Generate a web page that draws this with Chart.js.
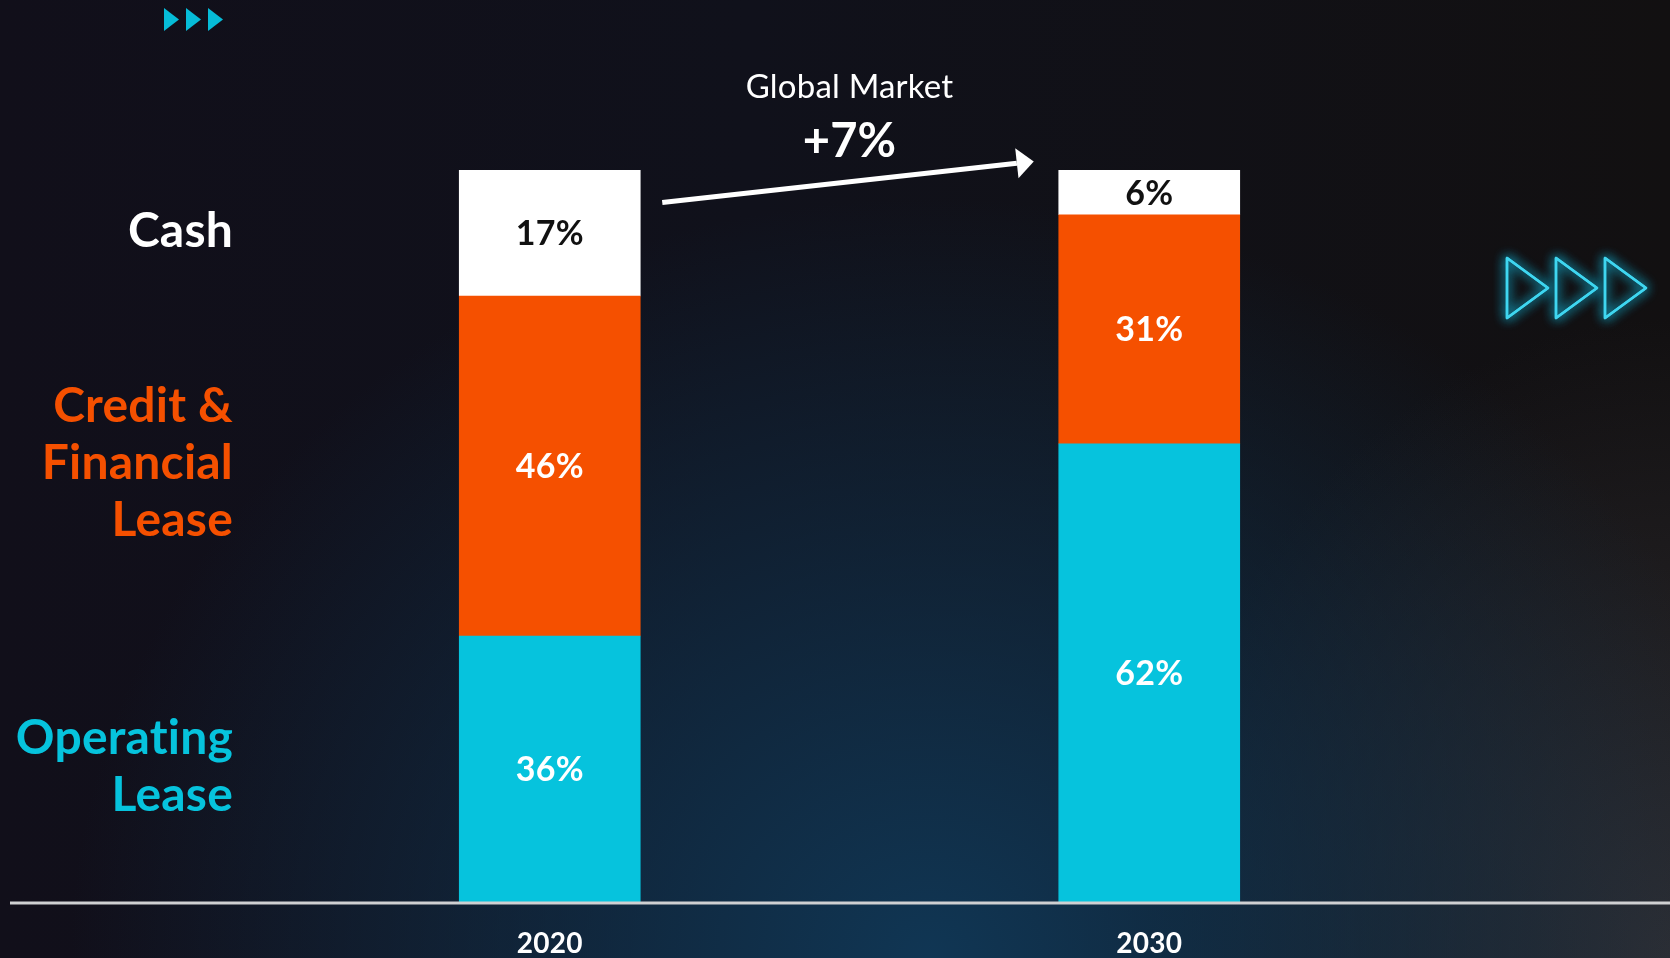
<!DOCTYPE html>
<html>
<head>
<meta charset="utf-8">
<title>Global Market Mix</title>
<script src="https://cdn.jsdelivr.net/npm/chart.js@4"></script>
<style>
  html, body { margin: 0; padding: 0; }
  body {
    width: 1670px;
    height: 958px;
    overflow: hidden;
    background:
      radial-gradient(ellipse 860px 760px at 930px 958px, rgba(16, 54, 84, 1), rgba(16, 54, 84, 0) 100%),
      radial-gradient(ellipse 520px 640px at 1670px 958px, rgba(48, 46, 50, 0.95), rgba(48, 46, 50, 0) 100%),
      linear-gradient(90deg, #110f1a 0%, #10111b 45%, #121011 100%);
  }
  #wrap { position: relative; width: 1670px; height: 958px; }
</style>
</head>
<body>
<div id="wrap"><canvas id="mixChart"></canvas></div>
<script>
// Share of each payment type per year (%)
const years = ['2020', '2030'];
const operatingLease = [36, 62];
const creditLease = [46, 31];
const cash = [17, 6];

const sideLabels = {
    operating: ['Operating', 'Lease'],
    credit: ['Credit &', 'Financial', 'Lease'],
    cash: ['Cash']
};

const growthTitle = 'Global Market';
const growthValue = '+7%';

const TEAL = '#06c3dd';
const ORANGE = '#f55000';
const FONT = 'Lato, "Open Sans", sans-serif';

// background ornaments: small arrows top left, neon arrows on the right
const decorPlugin = {
    id: 'decor',
    beforeDraw(chart) {
        const ctx = chart.ctx;
        ctx.save();
        ctx.fillStyle = '#06bcd8';
        for (let i = 0; i < 3; i++) {
            const x = 164 + i * 22;
            ctx.beginPath();
            ctx.moveTo(x, 8);
            ctx.lineTo(x + 15, 19.5);
            ctx.lineTo(x, 31);
            ctx.closePath();
            ctx.fill();
        }
        ctx.strokeStyle = '#3fd6f0';
        ctx.lineWidth = 2.5;
        ctx.lineJoin = 'round';
        ctx.shadowColor = 'rgba(20, 200, 240, 0.95)';
        ctx.shadowBlur = 12;
        for (let pass = 0; pass < 2; pass++) {
            for (let i = 0; i < 3; i++) {
                const x = 1507 + i * 49;
                ctx.beginPath();
                ctx.moveTo(x, 258);
                ctx.lineTo(x + 41, 288);
                ctx.lineTo(x, 318);
                ctx.closePath();
                ctx.stroke();
            }
        }
        ctx.restore();
    }
};

// values inside bars, series names on the left, years, baseline and growth arrow
const labelPlugin = {
    id: 'labels',
    afterDatasetsDraw(chart) {
        const ctx = chart.ctx;
        const area = chart.chartArea;
        ctx.save();
        ctx.letterSpacing = '0.2px'; // keeps "ti" from turning into a ligature

        // baseline
        ctx.strokeStyle = '#cfd0d2';
        ctx.lineWidth = 3;
        ctx.beginPath();
        ctx.moveTo(10, area.bottom + 1);
        ctx.lineTo(chart.width, area.bottom + 1);
        ctx.stroke();

        ctx.textAlign = 'center';
        ctx.textBaseline = 'middle';

        // year under each bar
        const xScale = chart.scales.x;
        ctx.fillStyle = '#ffffff';
        ctx.font = 'bold 28px ' + FONT;
        years.forEach((yr, j) => {
            ctx.fillText(yr, xScale.getPixelForValue(j), area.bottom + 42);
        });

        chart.data.datasets.forEach((ds, i) => {
            const meta = chart.getDatasetMeta(i);
            meta.data.forEach((bar, j) => {
                const mid = (bar.y + bar.base) / 2;
                ctx.font = 'bold 34px ' + FONT;
                ctx.fillStyle = ds.textColor;
                ctx.fillText(ds.data[j] + '%', bar.x, mid + 1);
            });

            // series name beside the first bar
            const first = meta.data[0];
            const lines = ds.sideLines;
            const mid = (first.y + first.base) / 2;
            const step = 57;
            ctx.font = 'bold 48px ' + FONT;
            ctx.textAlign = 'right';
            ctx.fillStyle = ds.sideColor;
            lines.forEach((line, k) => {
                const y = mid + (k - (lines.length - 1) / 2) * step - 2;
                ctx.fillText(line, area.left - 17, y);
            });
            ctx.textAlign = 'center';
        });

        // growth arrow between the tops of the two bars
        const topMeta = chart.getDatasetMeta(chart.data.datasets.length - 1);
        const b1 = topMeta.data[0];
        const b2 = topMeta.data[1];
        const x1 = b1.x + b1.width / 2 + 22;
        const y1 = b1.y + 32;
        const x2 = b2.x - b2.width / 2 - 25;
        const y2 = b2.y - 9;
        const ang = Math.atan2(y2 - y1, x2 - x1);
        const headLen = 17;
        ctx.strokeStyle = '#ffffff';
        ctx.fillStyle = '#ffffff';
        ctx.lineWidth = 5;
        ctx.beginPath();
        ctx.moveTo(x1, y1);
        ctx.lineTo(x2 - headLen * Math.cos(ang), y2 - headLen * Math.sin(ang));
        ctx.stroke();
        ctx.beginPath();
        ctx.moveTo(x2, y2);
        ctx.lineTo(x2 - headLen * Math.cos(ang) + 15 * Math.sin(ang), y2 - headLen * Math.sin(ang) - 15 * Math.cos(ang));
        ctx.lineTo(x2 - headLen * Math.cos(ang) - 15 * Math.sin(ang), y2 - headLen * Math.sin(ang) + 15 * Math.cos(ang));
        ctx.closePath();
        ctx.fill();

        const cx = (b1.x + b2.x) / 2;
        ctx.font = '33px ' + FONT;
        ctx.fillText(growthTitle, cx, 87);
        ctx.font = 'bold 47px ' + FONT;
        ctx.fillText(growthValue, cx, 142);

        ctx.restore();
    }
};

const ctx = document.getElementById('mixChart').getContext('2d');
const mixChart = new Chart(ctx, {
    type: 'bar',
    data: {
        labels: years,
        datasets: [{
            label: 'Operating Lease',
            data: operatingLease,
            backgroundColor: TEAL,
            textColor: '#ffffff',
            sideColor: TEAL,
            sideLines: sideLabels.operating
        }, {
            label: 'Credit & Financial Lease',
            data: creditLease,
            backgroundColor: ORANGE,
            textColor: '#ffffff',
            sideColor: ORANGE,
            sideLines: sideLabels.credit
        }, {
            label: 'Cash',
            data: cash,
            backgroundColor: '#ffffff',
            textColor: '#111111',
            sideColor: '#ffffff',
            sideLines: sideLabels.cash
        }]
    },
    options: {
        responsive: true,
        maintainAspectRatio: false,
        animation: false,
        layout: {
            padding: { left: 250, right: 221, top: 30, bottom: 56 }
        },
        datasets: {
            bar: {
                barThickness: 181,
                borderWidth: 0
            }
        },
        plugins: {
            legend: { display: false },
            tooltip: { enabled: false }
        },
        scales: {
            x: {
                stacked: true,
                display: false
            },
            y: {
                stacked: true,
                display: false,
                min: 0,
                max: 118
            }
        }
    },
    plugins: [decorPlugin, labelPlugin]
});
</script>
</body>
</html>
